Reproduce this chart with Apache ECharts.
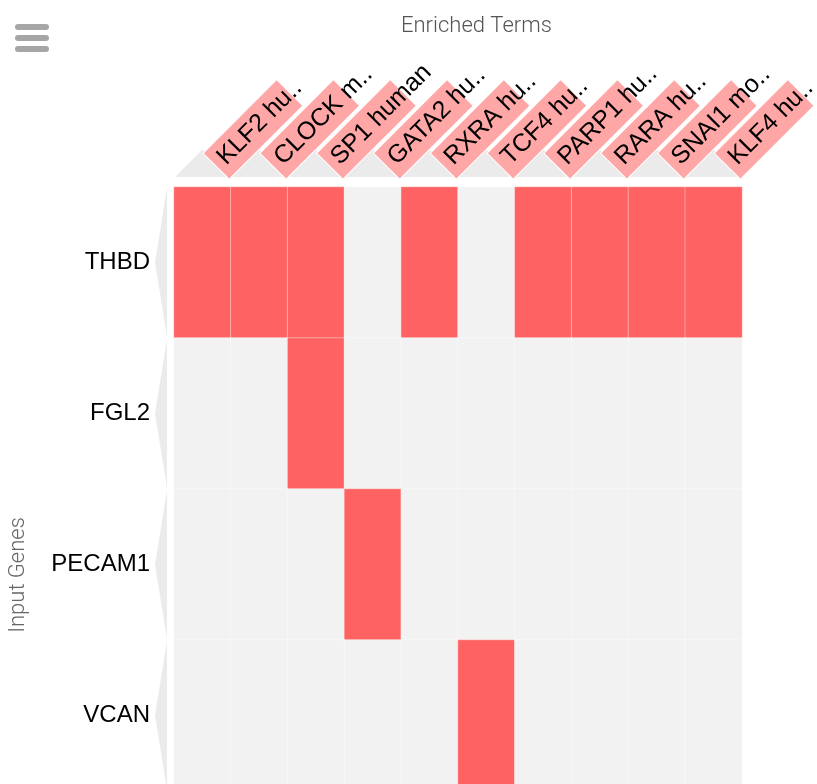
<!DOCTYPE html>
<html>
<head>
<meta charset="utf-8">
<script src="https://cdn.jsdelivr.net/npm/echarts@6/dist/echarts.min.js"></script>
<style>html,body{margin:0;padding:0;background:#fff;}#chart{width:817px;height:784px;}</style>
</head>
<body>
<div id="chart"></div>
<script>
// Enriched terms (column labels, as displayed)
var terms = ['KLF2 hu..', 'CLOCK m..', 'SP1 human', 'GATA2 hu..', 'RXRA hu..', 'TCF4 hu..', 'PARP1 hu..', 'RARA hu..', 'SNAI1 mo..', 'KLF4 hu..'];
// Input genes (row labels)
var genes = ['THBD', 'FGL2', 'PECAM1', 'VCAN'];
// Membership per gene (1 = gene in term)
var thbd   = [1, 1, 1, 0, 1, 0, 1, 1, 1, 1];
var fgl2   = [0, 0, 1, 0, 0, 0, 0, 0, 0, 0];
var pecam1 = [0, 0, 0, 1, 0, 0, 0, 0, 0, 0];
var vcan   = [0, 0, 0, 0, 0, 1, 0, 0, 0, 0];

var rows = [thbd, fgl2, pecam1, vcan];
var cells = [];
rows.forEach(function (r, y) { r.forEach(function (v, x) { cells.push([x, y, v]); }); });
var colIdx = terms.map(function (t, i) { return [i, 0]; });
var rowIdx = genes.map(function (g, j) { return [0, j]; });

var chart = echarts.init(document.getElementById('chart'));
chart.setOption({
  animation: false,
  backgroundColor: '#fff',
  title: {
    text: 'Enriched Terms', left: 396, top: 10,
    textStyle: { fontFamily: 'Roboto', fontWeight: 300, fontSize: 22, color: '#555' }
  },
  toolbox: {
    left: 0, top: 9, itemSize: 34, showTitle: false,
    iconStyle: { color: '#a6a6a6', borderWidth: 0 },
    emphasis: { iconStyle: { color: '#a6a6a6', borderWidth: 0 } },
    feature: {
      myMenu: {
        show: true, title: 'menu',
        icon: 'path://M3,0H31A3,3 0 0 1 31,6H3A3,3 0 0 1 3,0Z M3,11H31A3,3 0 0 1 31,17H3A3,3 0 0 1 3,11Z M3,22H31A3,3 0 0 1 31,28H3A3,3 0 0 1 3,22Z',
        onclick: function () {}
      }
    }
  },
  graphic: [{
    type: 'text', x: 18, y: 575, rotation: Math.PI / 2,
    style: { text: 'Input Genes', fontFamily: 'Roboto', fontWeight: 300, fontSize: 22, fill: '#666',
             align: 'center', verticalAlign: 'middle' }
  }],
  grid: { left: 174, width: 568, top: 187, height: 604, outerBoundsMode: 'none', containLabel: false },
  xAxis: {
    type: 'category', position: 'top', data: terms, z: 10,
    axisLine: { show: false }, axisTick: { show: false }, splitLine: { show: false },
    axisLabel: {
      interval: 0, rotate: -45, margin: 7,
      formatter: function (v) { return '{s| }{t|' + v + '}'; },
      rich: {
        s: { width: 20, height: 36, fontSize: 10 },
        t: { width: 96, height: 36, padding: [0, 0, 0, 7], backgroundColor: '#ffa6a6',
             borderColor: '#fff', borderWidth: 1,
             fontFamily: 'Liberation Sans', fontSize: 25, color: '#000' }
      }
    }
  },
  yAxis: {
    type: 'category', data: genes, inverse: true,
    axisLine: { show: false }, axisTick: { show: false }, splitLine: { show: false },
    axisLabel: { margin: 24, fontFamily: 'Liberation Sans', fontSize: 24, color: '#000' }
  },
  visualMap: {
    show: false, type: 'piecewise', dimension: 2, seriesIndex: 0,
    pieces: [{ value: 0, color: '#f2f2f2' }, { value: 1, color: '#ff6262' }]
  },
  series: [{
    type: 'heatmap', data: cells,
    itemStyle: { borderColor: 'rgba(255,255,255,0.4)', borderWidth: 1 },
    emphasis: { disabled: true }
  }, {
    type: 'custom', clip: false, silent: true, z: 1, data: colIdx,
    renderItem: function (params, api) {
      var c = api.coord([api.value(0), api.value(1)]);
      var s = api.size([1, 1]);
      var top = c[1] - s[1] / 2;
      var by = top - 10, hw = s[0] / 2;
      return { type: 'polygon',
        shape: { points: [[c[0] - hw + 1, by], [c[0], by - hw + 1], [c[0] + hw - 1, by]] },
        style: { fill: '#ebebeb' } };
    }
  }, {
    type: 'custom', clip: false, silent: true, z: 1, data: rowIdx,
    renderItem: function (params, api) {
      var c = api.coord([api.value(0), api.value(1)]);
      var s = api.size([1, 1]);
      var left = c[0] - s[0] / 2;
      var bx = left - 7, hh = s[1] / 2;
      return { type: 'polygon',
        shape: { points: [[bx, c[1] - hh + 1], [bx - 12, c[1]], [bx, c[1] + hh - 1]] },
        style: { fill: '#ebebeb' } };
    }
  }]
});
</script>
</body>
</html>
